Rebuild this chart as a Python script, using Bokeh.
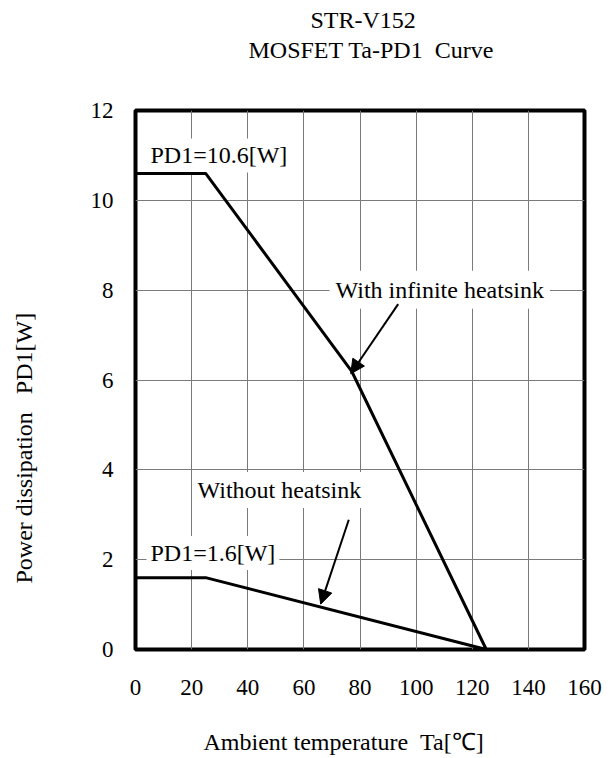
from bokeh.plotting import figure
from bokeh.models import Range1d, FixedTicker, Label, Arrow, NormalHead, Title
from bokeh.embed import file_html
from bokeh.resources import INLINE

# ---- data ----
x_ticks = [0, 20, 40, 60, 80, 100, 120, 140, 160]
y_ticks = [0, 2, 4, 6, 8, 10, 12]
inf_ta = [0, 25, 77, 125]          # with infinite heatsink
inf_pd = [10.6, 10.6, 6.2, 0]
nohs_ta = [0, 25, 125]             # without heatsink
nohs_pd = [1.6, 1.6, 0]

title1 = "STR-V152"
title2 = "MOSFET Ta-PD1\u00a0\u00a0Curve"
xlabel = "Ambient temperature\u00a0\u00a0Ta[\u2103]"
ylabel = "Power dissipation\u00a0\u00a0\u00a0PD1[W]"

FONT = "Liberation Serif"

p = figure(width=614, height=758, output_backend="svg", toolbar_location=None,
           title=None,
           x_range=Range1d(0, 160), y_range=Range1d(0, 12),
           min_border_left=135, min_border_right=30,
           min_border_top=110, min_border_bottom=109)
p.background_fill_color = "white"
p.border_fill_color = "white"
p.outline_line_color = "black"
p.outline_line_width = 4

for ax, ticks in ((p.xaxis, x_ticks), (p.yaxis, y_ticks)):
    ax.ticker = FixedTicker(ticks=ticks)
    ax.axis_line_color = None
    ax.major_tick_line_color = None
    ax.minor_tick_line_color = None
    ax.major_label_text_font = FONT
    ax.major_label_text_font_size = "23px"
    ax.major_label_text_color = "black"
p.xaxis.major_label_standoff = 24
p.yaxis.major_label_standoff = 16

p.xgrid.ticker = FixedTicker(ticks=x_ticks)
p.ygrid.ticker = FixedTicker(ticks=y_ticks)
for g in (p.xgrid, p.ygrid):
    g.grid_line_color = "#7a7a7a"
    g.grid_line_width = 1

p.line(inf_ta, inf_pd, line_color="black", line_width=3, level="overlay")
p.line(nohs_ta, nohs_pd, line_color="black", line_width=3, level="overlay")

PX = 449 / 160.0   # approx px per data unit in x, to compensate label padding

def lab(x, y, text, pad=4):
    l = Label(x=x - pad / PX, y=y, text=text, text_font=FONT, text_font_size="24px",
              text_color="black", text_align="left", text_baseline="middle",
              background_fill_color="white", padding=pad)
    p.add_layout(l)

lab(5.35, 11.0, "PD1=10.6[W]")
lab(71.3, 8.01, "With infinite heatsink", pad=6)
lab(22.1, 3.55, "Without heatsink", pad=5)
lab(5.35, 2.15, "PD1=1.6[W]")

head = dict(size=14, fill_color="black", line_color="black")
p.add_layout(Arrow(end=NormalHead(**head), x_start=93.6, y_start=7.69,
                   x_end=76.7, y_end=6.14, line_width=2, line_color="black"))
p.add_layout(Arrow(end=NormalHead(**head), x_start=76.0, y_start=2.89,
                   x_end=66.0, y_end=1.01, line_width=2, line_color="black"))

def ttl(text, side, offset, standoff, size="24px"):
    t = Title(text=text, align="left", offset=offset, standoff=standoff,
              text_font=FONT, text_font_size=size, text_font_style="normal",
              text_color="black")
    p.add_layout(t, side)

def spacer(side, standoff):
    ttl("\u00a0", side, 0, standoff, size="1px")

# above: nearest to the frame first
spacer("above", 43)
ttl(title2, "above", 113, 4)
ttl(title1, "above", 175, 0)
# below the x axis
spacer("below", 26)
ttl(xlabel, "below", 68, 0)
# left of the y axis
spacer("left", 46)
ttl(ylabel, "left", 66, 4)

open("out.html", "w").write(file_html(p, INLINE))
